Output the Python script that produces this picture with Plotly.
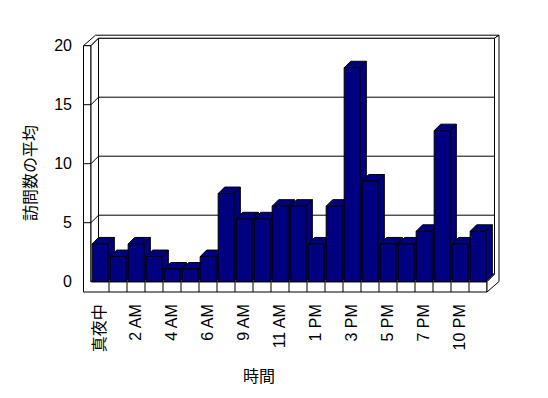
import plotly.graph_objects as go

# ---------------- data ----------------
categories = ["真夜中", "1 AM", "2 AM", "3 AM", "4 AM", "5 AM", "6 AM", "8 AM",
              "9 AM", "10 AM", "11 AM", "12 PM", "1 PM", "2 PM", "3 PM", "4 PM",
              "5 PM", "6 PM", "7 PM", "9 PM", "10 PM", "11 PM"]
visits = [3.2, 2.13, 3.2, 2.13, 1.07, 1.07, 2.13, 7.47, 5.33, 5.33, 6.4, 6.4,
          3.2, 6.4, 18.13, 8.53, 3.2, 3.2, 4.27, 12.8, 3.2, 4.27]
y_ticks = [0, 5, 10, 15, 20]
x_title = "時間"
y_title = "訪問数の平均"

# ---------------- layout geometry (pixels) ----------------
W, H = 548, 398
L, R, T, B = 78, 506, 30, 294          # plot area in pixels
CAT_PX = 18.0                          # pixels per category
UNIT_PX = 11.8                         # pixels per value unit
X_FRONT_LEFT = 91.0                    # pixel of category edge -0.5
Y_ZERO = 281.7                         # pixel of value 0 on front plane

n = len(categories)
x_range = [-0.5 - (X_FRONT_LEFT - L) / CAT_PX, -0.5 + (R - X_FRONT_LEFT) / CAT_PX]
y_range = [-(B - Y_ZERO) / UNIT_PX, (Y_ZERO - T) / UNIT_PX]


def dx(px):
    return px / CAT_PX


def dy(px):
    return px / UNIT_PX


x0, x1 = -0.5, n - 0.5
y0, ytop = y_ticks[0], y_ticks[-1]
bdx, bdy = dx(7.5), dy(7.5)      # depth of plot box (inner back plane)
odx, ody = dx(12), dy(10.5)      # outer back plane (wall thickness)
wt = dx(7.5)                     # left wall thickness
ft = dy(10.3)                    # floor thickness
hw = 0.435                       # half bar width (categories)
bbx, bby = dx(6.5), dy(6.5)      # bar depth

NAVY = "#000080"


def path(pts, close=True):
    s = "M " + " L ".join(f"{px},{py}" for px, py in pts)
    return s + (" Z" if close else "")


shapes = []
wall = dict(type="path", xref="x", yref="y", fillcolor="white",
            line=dict(color="black", width=1), layer="below")

# back wall face
shapes.append(dict(wall, path=path([(x0 + bdx, y0 + bdy), (x1 + bdx, y0 + bdy),
                                    (x1 + bdx, ytop + bdy), (x0 + bdx, ytop + bdy)])))
# top of walls
shapes.append(dict(wall, path=path([(x0 - wt, ytop), (x0, ytop), (x0 + bdx, ytop + bdy),
                                    (x1 + bdx, ytop + bdy), (x1 + odx, ytop + ody),
                                    (x0 - wt + odx, ytop + ody)])))
# left wall front + floor front
shapes.append(dict(wall, path=path([(x0 - wt, ytop), (x0, ytop), (x0, y0), (x1, y0),
                                    (x1, y0 - ft), (x0 - wt, y0 - ft)])))
# left wall inner face
shapes.append(dict(wall, path=path([(x0, ytop), (x0 + bdx, ytop + bdy),
                                    (x0 + bdx, y0 + bdy), (x0, y0)])))
# floor top face
shapes.append(dict(wall, path=path([(x0, y0), (x1, y0), (x1 + bdx, y0 + bdy),
                                    (x0 + bdx, y0 + bdy)])))
# right side
shapes.append(dict(wall, path=path([(x1, y0), (x1, y0 - ft), (x1 + odx, y0 - ft + ody),
                                    (x1 + odx, ytop + ody), (x1 + bdx, ytop + bdy),
                                    (x1 + bdx, y0 + bdy)])))
# gridlines
for v in y_ticks[1:-1]:
    shapes.append(dict(type="path", xref="x", yref="y", layer="below",
                       line=dict(color="black", width=1),
                       path=path([(x0 - wt, v), (x0, v), (x0 + bdx, v + bdy),
                                  (x1 + bdx, v + bdy)], close=False)))
# floor tick separators
for k in range(1, n):
    shapes.append(dict(type="line", xref="x", yref="y", layer="below",
                       x0=x0 + k, x1=x0 + k, y0=y0, y1=y0 - ft,
                       line=dict(color="black", width=1)))

# bar sides and tops
face = dict(type="path", xref="x", yref="y", fillcolor=NAVY,
            line=dict(color="black", width=1), layer="between")
for i, v in enumerate(visits):
    shapes.append(dict(face, path=path([(i + hw, 0), (i + hw + bbx, bby),
                                        (i + hw + bbx, v + bby), (i + hw, v)])))
for i, v in enumerate(visits):
    shapes.append(dict(face, path=path([(i - hw, v), (i + hw, v),
                                        (i + hw + bbx, v + bby), (i - hw + bbx, v + bby)])))

fig = go.Figure()
fig.add_trace(go.Bar(
    x=list(range(n)), y=visits, width=2 * hw,
    marker=dict(color=NAVY, line=dict(color="black", width=1)),
    hovertext=categories, hoverinfo="text+y", showlegend=False,
))

FONT = "Liberation Sans, Arial, Noto Sans CJK JP, sans-serif"

tick_idx = list(range(0, n, 2))
fig.update_layout(
    width=W, height=H,
    margin=dict(l=L, r=W - R, t=T, b=H - B, pad=0),
    paper_bgcolor="white", plot_bgcolor="white",
    font=dict(family=FONT, size=16, color="black"),
    shapes=shapes,
    xaxis=dict(range=x_range, showgrid=False, zeroline=False, showline=False,
               tickvals=tick_idx, ticktext=[categories[i] for i in tick_idx],
               tickangle=-90, ticks="", ticklabelstandoff=6,
               tickfont=dict(family=FONT, size=16)),
    yaxis=dict(range=y_range, showgrid=False, zeroline=False, showline=False,
               tickvals=y_ticks, ticktext=[str(t) for t in y_ticks], ticks="",
               ticklabelstandoff=5, tickfont=dict(family=FONT, size=16)),
    annotations=[
        dict(text=y_title, textangle=-90, xref="paper", yref="paper",
             x=(30 - L) / (R - L), y=(B - 173) / (B - T), showarrow=False,
             xanchor="center", yanchor="middle", font=dict(family=FONT, size=16)),
        dict(text=x_title, xref="paper", yref="paper",
             x=(259 - L) / (R - L), y=(B - 376) / (B - T), showarrow=False,
             xanchor="center", yanchor="middle", font=dict(family=FONT, size=16)),
    ],
)

fig.write_html("out.html")
